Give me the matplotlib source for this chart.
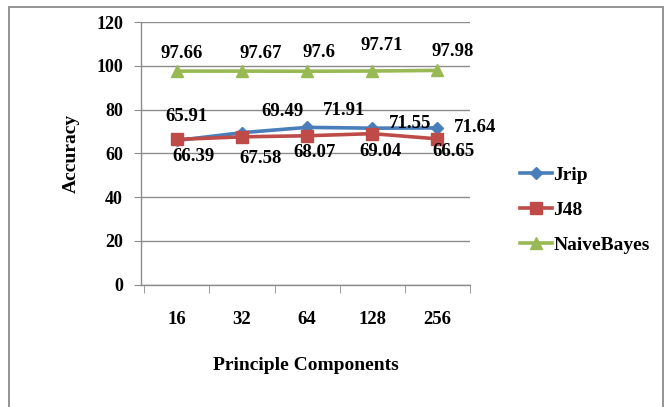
import matplotlib
matplotlib.use("Agg")
import matplotlib.pyplot as plt
from matplotlib.patches import Rectangle

# Data
components = ["16", "32", "64", "128", "256"]
jrip = [65.91, 69.49, 71.91, 71.55, 71.64]
j48 = [66.39, 67.58, 68.07, 69.04, 66.65]
naive_bayes = [97.66, 97.67, 97.6, 97.71, 97.98]
y_ticks = [0, 20, 40, 60, 80, 100, 120]

plt.rcParams["font.family"] = ["Liberation Serif", "DejaVu Serif"]
plt.rcParams["font.weight"] = "bold"

W, H = 667, 407
fig = plt.figure(figsize=(W / 100, H / 100), dpi=100)
fig.patch.set_facecolor("white")

# Outer chart frame
fig.patches.append(Rectangle((9 / W, -0.05), (663 - 9) / W, 1.05 - 7 / H,
                             transform=fig.transFigure, fill=False,
                             edgecolor="#8a8a8a", linewidth=1.3))

ax = fig.add_axes([141 / W, 1 - 284.5 / H, (470 - 141) / W, (284.5 - 22.3) / H])

x = list(range(len(components)))
ax.plot(x, jrip, color="#4A7EBB", lw=2.6, marker="D", markersize=6.5,
        label="Jrip", zorder=3)
ax.plot(x, j48, color="#BE4B48", lw=2.6, marker="s", markersize=9,
        label="J48", zorder=4)
ax.plot(x, naive_bayes, color="#98B954", lw=2.6, marker="^", markersize=9,
        label="NaiveBayes", zorder=3)

ax.set_ylim(0, 120)
ax.set_xlim(-0.55, 4.5)
ax.set_yticks(y_ticks)
ax.set_xticks(x)
ax.set_xticklabels(components)
ax.set_xticks([i + 0.5 for i in range(-1, 5)], minor=True)

ax.grid(axis="y", color="#8c8c8c", lw=1.0)
ax.set_axisbelow(True)
for s in ["top", "right"]:
    ax.spines[s].set_visible(False)
for s in ["left", "bottom"]:
    ax.spines[s].set_color("#8c8c8c")
    ax.spines[s].set_linewidth(1.0)

ax.tick_params(axis="y", length=5, color="#8c8c8c", pad=8, labelsize=13)
ax.tick_params(axis="x", which="major", length=0, pad=19, labelsize=13.5)
ax.tick_params(axis="x", which="minor", length=6, color="#8c8c8c")

ax.set_xlabel("Principle Components", fontsize=14, fontweight="bold", labelpad=21)
ax.set_ylabel("Accuracy", fontsize=14, fontweight="bold", labelpad=12)

# Value labels (offsets in pixels from each point)
jrip_off = [(10, 24), (41, 21), (37, 17), (38, 5), (38, 0)]
j48_off = [(17, -17), (19, -22), (7, -17), (8, -18), (16, -13)]
nb_off = [(5, 18), (19, 18), (12, 19), (9, 26), (15, 19)]

for series, offs in [(jrip, jrip_off), (j48, j48_off), (naive_bayes, nb_off)]:
    for xi, v, (dx, dy) in zip(x, series, offs):
        ax.annotate(f"{v:g}", (xi, v), xytext=(dx, dy), textcoords="offset pixels",
                    ha="center", va="center", fontsize=13.5, fontweight="bold",
                    zorder=5)

leg = fig.legend(loc="center left", bbox_to_anchor=(502 / W, 1 - 210 / H),
                 frameon=False, fontsize=14, handlelength=1.65,
                 handletextpad=0.1, labelspacing=0.88)

fig.savefig("out.png", dpi=100)
